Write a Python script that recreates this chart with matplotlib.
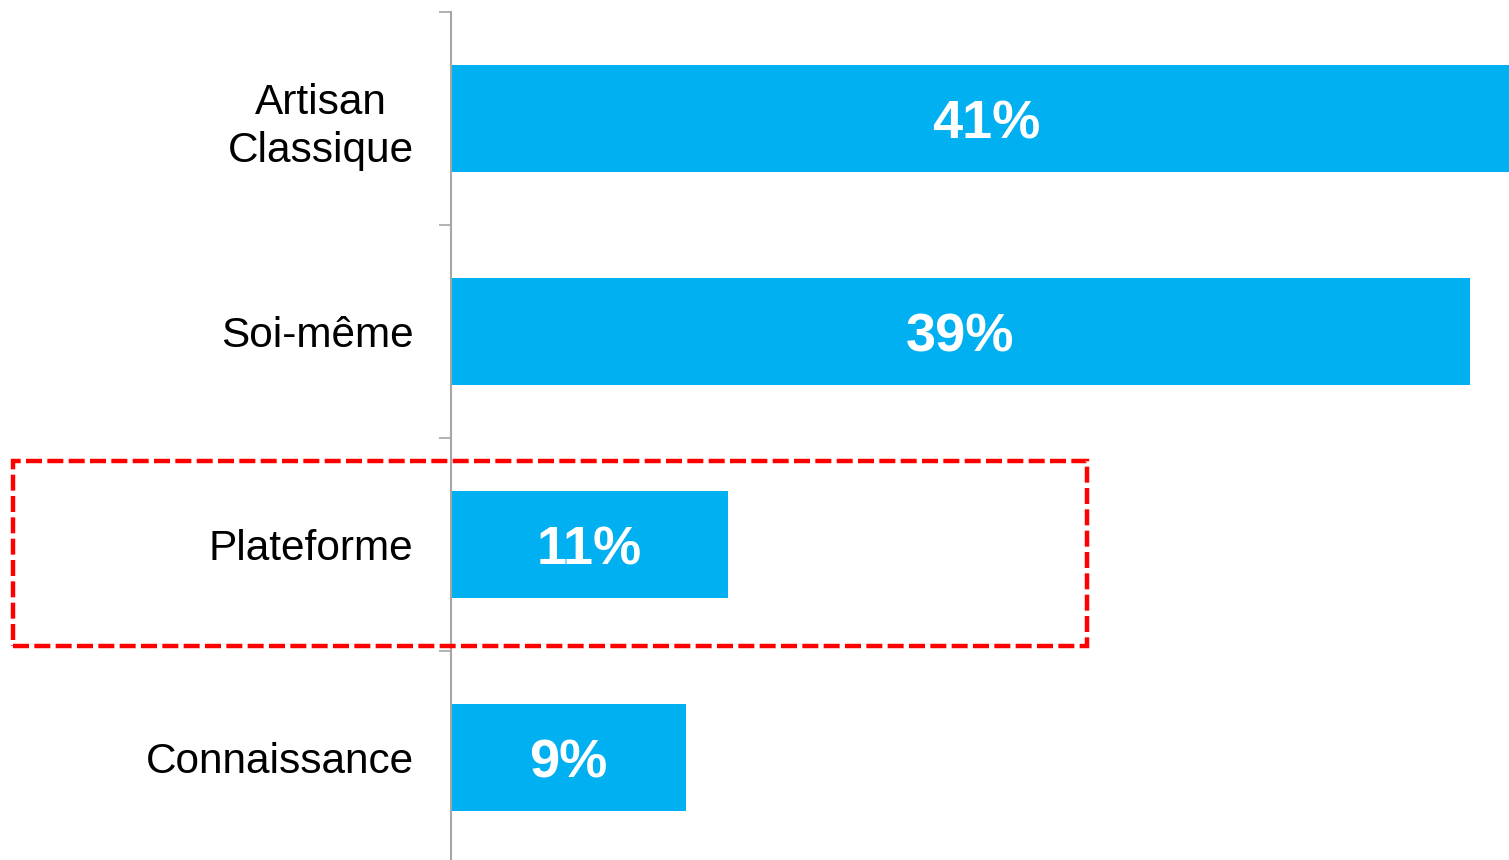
import matplotlib.pyplot as plt
from matplotlib.patches import Rectangle

plt.rcParams['font.family'] = ['Liberation Sans', 'DejaVu Sans']

# data
categories = ["Artisan\nClassique", "Soi-même", "Plateforme", "Connaissance"]
values = [41.0, 39.0, 10.6, 9.0]
value_labels = ["41%", "39%", "11%", "9%"]

bar_colour = "#00B0F0"
axis_colour = "#A6A6A6"

W, H = 1509, 860
fig = plt.figure(figsize=(W / 100, H / 100), dpi=100)
# axes: left edge at x=451px, top at y=12px, bottom slightly below the image
ax = fig.add_axes([451 / W, -4 / H, 1 - 451 / W, (864 - 12) / H])

pos = list(range(len(categories)))
ax.barh(pos, values, height=0.5, color=bar_colour)
for p, v, lab in zip(pos, values, value_labels):
    ax.annotate(lab, (v / 2, p), xytext=(0, -4), textcoords='offset points',
                ha='center', va='center', color='white',
                fontsize=39, fontweight='bold')

ax.set_xlim(0, 40.5)
ax.set_ylim(len(categories) - 0.5, -0.5)

# category labels placed between the boundary ticks
ax.set_yticks([p - 0.5 for p in pos] + [len(categories) - 0.5])
ax.set_yticks(pos, minor=True)
ax.set_yticklabels([])
ax.set_yticklabels(categories, minor=True, fontsize=30.5, ha='right',
                   multialignment='center', linespacing=1.25)
ax.tick_params(axis='y', which='major', length=9, width=1.2, color=axis_colour)
ax.tick_params(axis='y', which='minor', length=0, pad=27)
ax.set_xticks([])

for s in ['top', 'right', 'bottom']:
    ax.spines[s].set_visible(False)
ax.spines['left'].set_color(axis_colour)
ax.spines['left'].set_linewidth(1.5)

# red dashed highlight around "Plateforme"
x0, y0, x1, y1 = 13, 461, 1087, 646
rect = Rectangle((x0 / W, 1 - y1 / H), (x1 - x0) / W, (y1 - y0) / H,
                 transform=fig.transFigure, fill=False, edgecolor='#FF0000',
                 linewidth=3.2, linestyle=(0, (3.6, 1.2)), clip_on=False)
fig.add_artist(rect)

fig.savefig("out.png", dpi=100)
